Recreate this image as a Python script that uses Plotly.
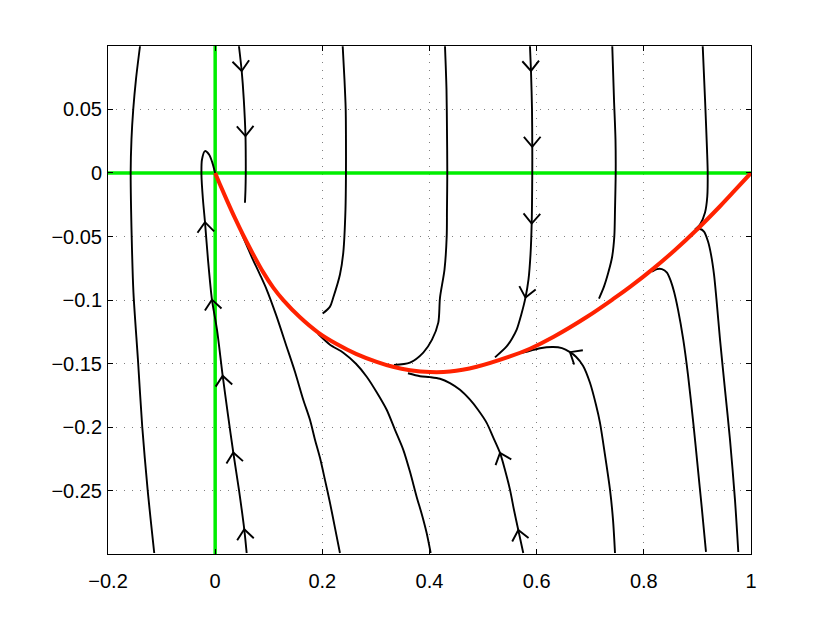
import math
import plotly.graph_objects as go

# ---------------- axes / ticks ----------------
X_RANGE = [-0.2, 1.0]
Y_RANGE = [-0.2996, 0.0998]
x_ticks = [-0.2, 0, 0.2, 0.4, 0.6, 0.8, 1]
x_tick_labels = ["\u22120.2", "0", "0.2", "0.4", "0.6", "0.8", "1"]
y_ticks = [-0.25, -0.2, -0.15, -0.1, -0.05, 0, 0.05]
y_tick_labels = ["\u22120.25", "\u22120.2", "\u22120.15", "\u22120.1", "\u22120.05", "0", "0.05"]

# ---------------- trajectories ----------------
a_x = [-0.1403, -0.1478, -0.1529, -0.1562, -0.1577, -0.1558, -0.1525, -0.1441, -0.1361, -0.1260, -0.1137]
a_y = [0.0996, 0.0736, 0.05, 0.0264, 0.0004, -0.05, -0.0941, -0.1469, -0.1996, -0.2492, -0.2988]

b_x = [0.0588, 0.0543, 0.0444, 0.0338, 0.0239, 0.0140, 0.0034, -0.0060, -0.0134, -0.0190,
       -0.0228, -0.0256, -0.0246, -0.0190, -0.0116, -0.0060, -0.0032, 0.0]
b_y = [-0.2988, -0.2802, -0.2492, -0.2198, -0.1902, -0.1594, -0.1232, -0.0996, -0.0681, -0.0387,
       -0.0209, -0.0012, 0.0106, 0.0172, 0.0146, 0.0091, 0.0051, 0.0]

c_x = [0.0444, 0.0495, 0.0534, 0.0566, 0.0571, 0.0571, 0.0566, 0.0556]
c_y = [0.0996, 0.0802, 0.0579, 0.0290, 0.0106, -0.0012, -0.0130, -0.0235]

d_x = [0.2380, 0.2413, 0.2436, 0.2441, 0.2441, 0.2432, 0.2391, 0.2329, 0.2204, 0.2143, 0.2006]
d_y = [0.0996, 0.0736, 0.05, 0.0264, 0.0004, -0.0287, -0.0626, -0.0799, -0.0980, -0.1051, -0.1106]

e_x = [0.4289, 0.4317, 0.4326, 0.4332, 0.4326, 0.4321, 0.4280, 0.4196, 0.4164, 0.4047, 0.3884, 0.3635, 0.3337]
e_y = [0.0996, 0.0657, 0.0343, 0.0004, -0.0287, -0.05, -0.0760, -0.0980, -0.1177, -0.1311, -0.1413, -0.1492, -0.1510]

f_x = [0.5875, 0.5894, 0.5913, 0.5918, 0.5918, 0.5907, 0.5885, 0.5847, 0.5791, 0.5707, 0.5627, 0.5539, 0.5440, 0.5222]
f_y = [0.0996, 0.0802, 0.05, 0.0206, 0.0004, -0.0398, -0.0642, -0.0839, -0.0980, -0.1122, -0.1232, -0.1303, -0.1364, -0.1450]

g_x = [0.7411, 0.7443, 0.7471, 0.7475, 0.7462, 0.7449, 0.7406, 0.7337, 0.7256, 0.7163]
g_y = [0.0996, 0.0579, 0.0264, 0.0004, -0.0287, -0.05, -0.0665, -0.0783, -0.0894, -0.0988]

h_x = [0.9099, 0.9142, 0.9179, 0.9192, 0.9184, 0.9142, 0.9048, 0.8955]
h_y = [0.0996, 0.0579, 0.0185, 0.0004, -0.0185, -0.0311, -0.0406, -0.0445]

i_x = [0.8974, 0.9048, 0.9123, 0.9198, 0.9254, 0.9310, 0.9356, 0.9422, 0.9515, 0.9608, 0.9701, 0.9763]
i_y = [-0.0453, -0.0441, -0.0461, -0.0539, -0.0642, -0.0799, -0.0996, -0.1311, -0.1705, -0.2098, -0.2571, -0.2980]

j_x = [0.8152, 0.8245, 0.8338, 0.8432, 0.8507, 0.8563, 0.8638, 0.8736, 0.8824, 0.8923, 0.9011, 0.9080, 0.9160]
j_y = [-0.0776, -0.0756, -0.0756, -0.0783, -0.0854, -0.0933, -0.1075, -0.1311, -0.1587, -0.1965, -0.2335, -0.2626, -0.2980]

k_x = [0.7462, 0.7425, 0.7369, 0.7275, 0.7182, 0.7107, 0.6995, 0.6865, 0.6734, 0.6622, 0.6473, 0.6305, 0.6063, 0.5875, 0.5707]
k_y = [-0.2988, -0.2728, -0.2492, -0.2217, -0.1965, -0.1823, -0.1650, -0.1516, -0.1445, -0.1409, -0.1378, -0.1369, -0.1378, -0.1398, -0.1417]

l_x = [0.5750, 0.5657, 0.5577, 0.5503, 0.5409, 0.5316, 0.5185, 0.5067, 0.4905, 0.4756, 0.4569, 0.4382, 0.4196, 0.4009, 0.3823, 0.3598]
l_y = [-0.2988, -0.2807, -0.2650, -0.2492, -0.2335, -0.2201, -0.2075, -0.1965, -0.1862, -0.1783, -0.1705, -0.1652, -0.1618, -0.1605, -0.1598, -0.1575]

m_x = [0.1919, 0.2143, 0.2391, 0.2628, 0.2828, 0.3020, 0.3201, 0.3356, 0.3511, 0.3636, 0.3761, 0.3860, 0.3947, 0.4022]
m_y = [-0.1264, -0.1350, -0.1413, -0.15, -0.1602, -0.1728, -0.1862, -0.2020, -0.2177, -0.2350, -0.2547, -0.2689, -0.2831, -0.2988]

n_x = [0.0482, 0.0556, 0.0687, 0.0836, 0.0961, 0.1135, 0.1334, 0.1489, 0.1644, 0.1769, 0.1863, 0.1956, 0.2049, 0.2143, 0.2236, 0.2329]
n_y = [-0.0465, -0.0539, -0.0665, -0.0799, -0.0917, -0.1114, -0.1366, -0.1563, -0.1783, -0.1941, -0.2098, -0.2240, -0.2413, -0.2594, -0.2791, -0.2988]

# slow manifold (red)
red_x = [0.0, 0.0090, 0.0215, 0.0370, 0.0524, 0.0705, 0.0898, 0.1084, 0.1271, 0.1583, 0.1924, 0.2268,
         0.2628, 0.3014, 0.3318, 0.3636, 0.4009, 0.4382, 0.4880, 0.5502, 0.5875, 0.6310, 0.6934, 0.7430,
         0.7742, 0.8177, 0.8582, 0.8987, 0.9422, 0.9702, 1.0]
red_y = [0.0, -0.0091, -0.0212, -0.0356, -0.0490, -0.0636, -0.0782, -0.0902, -0.1000, -0.1135, -0.1255, -0.1345,
         -0.1422, -0.1485, -0.1524, -0.1551, -0.1566, -0.1562, -0.1524, -0.1443, -0.1382, -0.1290, -0.1133, -0.0991,
         -0.0896, -0.0752, -0.0606, -0.0447, -0.0262, -0.0136, 0.0]

# arrowheads: indices of the tip points on each curve
b_arrows = [1, 3, 5, 7, 9]
c_arrows = [1, 3]
f_arrows = [1, 3, 5, 8]
k_arrows = [9]
l_arrows = [1, 5]

# ---------------- layout geometry ----------------
W, H = 822, 617
M_L, M_T = 100, 38
PLOT_W, PLOT_H = 643, 508
M_R = W - M_L - PLOT_W
M_B = H - M_T - PLOT_H
sx = PLOT_W / (X_RANGE[1] - X_RANGE[0])
sy = PLOT_H / (Y_RANGE[1] - Y_RANGE[0])

fig = go.Figure()

# green lines
fig.add_trace(go.Scatter(x=[X_RANGE[0], X_RANGE[1]], y=[0, 0], mode="lines",
                         line=dict(color="#00ee00", width=3.5), hoverinfo="skip"))
fig.add_trace(go.Scatter(x=[0, 0], y=[Y_RANGE[0], Y_RANGE[1]], mode="lines",
                         line=dict(color="#00ee00", width=3.5), hoverinfo="skip"))

curves = [(a_x, a_y), (b_x, b_y), (c_x, c_y), (d_x, d_y), (e_x, e_y), (f_x, f_y), (g_x, g_y),
          (h_x, h_y), (i_x, i_y), (j_x, j_y), (k_x, k_y), (l_x, l_y), (m_x, m_y), (n_x, n_y)]
for cx, cy in curves:
    fig.add_trace(go.Scatter(x=cx, y=cy, mode="lines",
                             line=dict(color="black", width=1.9, shape="spline", smoothing=0.8),
                             hoverinfo="skip"))

# chevron arrowheads, oriented along the curve tangent at the tip points
arm = 13.0
half = math.radians(40)
arr_x, arr_y = [], []
for (cx, cy), idxs in [((b_x, b_y), b_arrows), ((c_x, c_y), c_arrows), ((f_x, f_y), f_arrows),
                       ((k_x, k_y), k_arrows), ((l_x, l_y), l_arrows)]:
    for i in idxs:
        j0 = max(i - 1, 0)
        j1 = min(i + 1, len(cx) - 1)
        dx = (cx[j1] - cx[j0]) * sx
        dy = (cy[j1] - cy[j0]) * sy
        nrm = math.hypot(dx, dy)
        ux, uy = dx / nrm, dy / nrm
        pts = []
        for s in (1, -1):
            c, sn = math.cos(s * half), math.sin(s * half)
            bx = -(ux * c - uy * sn)
            by = -(ux * sn + uy * c)
            pts.append((cx[i] + bx * arm / sx, cy[i] + by * arm / sy))
        arr_x += [pts[0][0], cx[i], pts[1][0], None]
        arr_y += [pts[0][1], cy[i], pts[1][1], None]
fig.add_trace(go.Scatter(x=arr_x, y=arr_y, mode="lines", line=dict(color="black", width=1.9),
                         hoverinfo="skip"))

# red curve
fig.add_trace(go.Scatter(x=red_x, y=red_y, mode="lines",
                         line=dict(color="#ff2200", width=4, shape="spline", smoothing=1.0),
                         hoverinfo="skip"))

font = dict(family="Liberation Sans, Arial, sans-serif", size=20, color="black")
axis_common = dict(showline=True, linecolor="black", linewidth=1, mirror="ticks",
                   ticks="inside", ticklen=5, tickcolor="black", tickwidth=1,
                   showgrid=True, gridcolor="#808080", gridwidth=1, griddash="1px,7px",
                   zeroline=False, tickfont=font)
fig.update_layout(
    width=W, height=H,
    margin=dict(l=M_L, r=M_R, t=M_T, b=M_B),
    paper_bgcolor="white", plot_bgcolor="white",
    showlegend=False,
    xaxis=dict(range=X_RANGE, tickvals=x_ticks, ticktext=x_tick_labels, ticklabelstandoff=9, **axis_common),
    yaxis=dict(range=Y_RANGE, tickvals=y_ticks, ticktext=y_tick_labels, ticklabelstandoff=1, **axis_common),
)
fig.write_html("out.html")
